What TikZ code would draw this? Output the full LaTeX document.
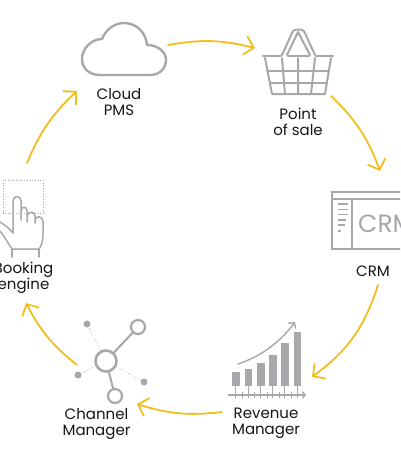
\documentclass[tikz,border=0pt]{standalone}
\usepackage{fontspec}
\setmainfont{Poppins}
\usetikzlibrary{arrows.meta}
\definecolor{flowyellow}{HTML}{F1BD1F}
\definecolor{icongray}{HTML}{A6A8AB}
\definecolor{labelink}{HTML}{161616}
\tikzset{
  flow/.style={draw=flowyellow, line width=1.8pt, line cap=round, -{Straight Barb[length=9pt, width=19pt, line width=1.8pt]}},
  icon/.style={draw=icongray, line width=2pt, line join=round, line cap=round},
  handicon/.style={draw=icongray, line width=1.5pt, line join=round, line cap=round},
  thinicon/.style={draw=icongray, line width=1.1pt},
  dots/.style={draw=icongray, line width=0.7pt, dotted},
  label/.style={text=labelink, align=center, inner sep=0pt, font=\fontsize{15}{16}\selectfont},
  bar/.style={fill=icongray, draw=none},
}
\begin{document}
\begin{tikzpicture}[x=1pt, y=-1pt]
  \useasboundingbox (0,0) rectangle (400,464);
  \clip (0,0) rectangle (400,464);
  \coordinate (cloudout) at (168,45);
  \coordinate (basketin) at (255,48);
  \coordinate (basketout) at (331,96);
  \coordinate (crmin) at (380,171);
  \coordinate (crmout) at (378,285);
  \coordinate (revenuein) at (312,377);
  \coordinate (revenueout) at (222,412);
  \coordinate (channelin) at (137,404);
  \coordinate (channelout) at (77,365);
  \coordinate (bookingin) at (26,303);
  \coordinate (bookingout) at (27,163);
  \coordinate (cloudin) at (77,91);
  \draw[flow] (cloudout) to[bend left=12] (basketin);
  \draw[flow] (basketout) to[bend left=13] (crmin);
  \draw[flow] (crmout) to[bend left=18] (revenuein);
  \draw[flow] (revenueout) to[bend left=12] (channelin);
  \draw[flow] (channelout) to[bend left=12] (bookingin);
  \draw[flow] (bookingout) to[bend left=12] (cloudin);
  \draw[icon, line width=2.4pt] (100,75) .. controls (89,75) and (82,68) .. (82,59) .. controls (82,49) and (91,39) .. (102,39) .. controls (106,29) and (115,23) .. (124,23) .. controls (137,23) and (146,33) .. (147,45) .. controls (158,45) and (166,52) .. (166,60) .. controls (166,69) and (159,75) .. (150,75) -- cycle;
  \node[label] (cloudlabel) at (119,102) {Cloud\\PMS};
  \draw[icon, line width=2.4pt] (263,56) -- (281,56) (288,56) -- (309,56) (316,56) -- (333,56);
  \draw[icon] (265,58) -- (272,94) -- (325,94) -- (331,58);
  \draw[icon] (282,58) -- (285,94) (298,58) -- (298,94) (315,58) -- (311,94);
  \draw[icon] (267,71) -- (329,71) (270,83) -- (327,83);
  \draw[icon] (282,55) -- (293,31) -- (296,29.5) -- (301,29.5) -- (304,31) -- (315,55);
  \draw[icon] (287,55) -- (298,32) -- (310,55);
  \node[label] (basketlabel) at (298,122) {Point\\of sale};
  \draw[thinicon] (332,192) rectangle (410,249);
  \draw[thinicon] (332,199) -- (410,199) (352,199) -- (352,249);
  \draw[icongray, line width=1.5pt] (338,204) -- (348,204);
  \draw[icongray, line width=1.5pt] (338,209.5) -- (348,209.5);
  \draw[icongray, line width=1.5pt] (338,214.5) -- (348,214.5);
  \draw[icongray, line width=1.5pt] (338,220) -- (346,220);
  \draw[icongray, line width=1.5pt] (338,225) -- (345,225);
  \draw[icongray, line width=1.5pt] (338,231) -- (341,231);
  \node[anchor=west, text=icongray, inner sep=0pt, font=\fontsize{25}{25}\selectfont] (crmtext) at (358,224) {CRM};
  \node[label] (crmlabel) at (373,271) {CRM};
  \foreach \x/\y in {232/372, 244.5/369, 257/363, 269/355, 281/343, 293.5/332} {
    \fill[bar] (\x,\y) rectangle ++(7.5,386-\y);
    \draw[icongray, line width=1pt] (\x+3.75,386) -- (\x+3.75,398);
    \draw[icongray, line width=0.8pt] (\x+10,392) -- (\x+10,398);
  }
  \draw[icongray, line width=1.1pt, -{Straight Barb[length=3pt, width=7pt]}] (228,395) -- (306,395);
  \draw[icongray, line width=1.4pt, line cap=round, -{Straight Barb[length=4pt, width=9pt]}] (238,364) .. controls (262,356) and (280,342) .. (295,322);
  \node[label] (revenuelabel) at (266,423.5) {Revenue\\Manager};
  \node[circle, draw=icongray, line width=2.6pt, minimum size=21pt, inner sep=0pt] (hub) at (106,361) {};
  \node[circle, draw=icongray, line width=2.2pt, minimum size=14pt, inner sep=0pt] (hubtop) at (138,327) {};
  \node[circle, draw=icongray, line width=2.2pt, minimum size=14pt, inner sep=0pt] (hubbottom) at (115,396) {};
  \node[circle, fill=icongray, minimum size=7pt, inner sep=0pt] (dotnw) at (87,324) {};
  \node[circle, fill=icongray, minimum size=7pt, inner sep=0pt] (dotw) at (78,375) {};
  \node[circle, fill=icongray, minimum size=7pt, inner sep=0pt] (dote) at (144,382) {};
  \draw[icon] (hub) -- (hubtop);
  \draw[icon] (hub) -- (hubbottom);
  \draw[dots] (hub) -- (dotnw);
  \draw[dots] (hub) -- (dotw);
  \draw[dots] (hub) -- (dote);
  \node[label] (channellabel) at (96.5,423.5) {Channel\\Manager};
  \draw[dots] (3,180) rectangle (43,213);
  \draw[handicon] (0,222) .. controls (5,225) and (10,229) .. (13,233) -- (13,201) .. controls (13,195) and (21,195) .. (21,201) -- (21,220);
  \draw[handicon] (21,211) .. controls (21,206) and (27,206) .. (27,211) -- (27,222);
  \draw[handicon] (27,216) .. controls (28,211) and (35,211) .. (35,216) -- (35,223);
  \draw[handicon] (35,220) .. controls (36,215) and (43,216) .. (43,222) -- (43,234) .. controls (43,241) and (41,247) .. (39,249) -- (12,249) .. controls (8,243) and (4,236) .. (0,231);
  \draw[handicon] (12,249) -- (12,257) (39,249) -- (39,257);
  \node[label] (bookinglabel) at (23.5,278) {Booking\\engine};
\end{tikzpicture}
\end{document}
